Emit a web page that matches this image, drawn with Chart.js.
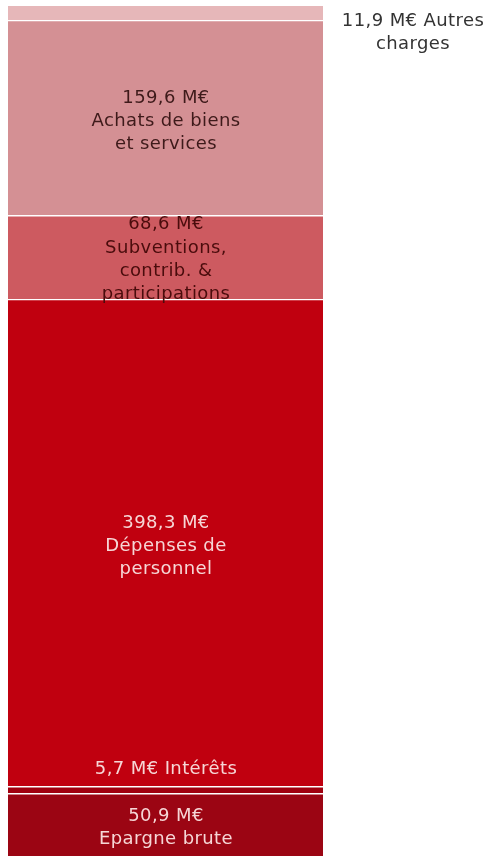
<!DOCTYPE html>
<html lang="fr">
<head>
  <meta charset="UTF-8">
  <title>Dépenses</title>
  <script src="https://cdn.jsdelivr.net/npm/chart.js"></script>
  <style>
    html, body { margin: 0; padding: 0; background: #fff; }
    #wrap { width: 489px; height: 856px; }
  </style>
</head>
<body>
  <div id="wrap"><canvas id="chart"></canvas></div>

  <script>
    // bottom to top
    const names = ['Epargne brute', 'Intérêts', 'Dépenses de personnel', 'Subventions, contrib. & participations', 'Achats de biens et services', 'Autres charges'];
    const values = [50.9, 5.7, 398.3, 68.6, 159.6, 11.9];
    const colors = ['#9b0513', '#a0000f', '#c0000f', '#cd5a60', '#d49094', '#e6b7b9'];
    const labelLines = [
      ['50,9 M€', 'Epargne brute'],
      ['5,7 M€ Intérêts'],
      ['398,3 M€', 'Dépenses de', 'personnel'],
      ['68,6 M€', 'Subventions,', 'contrib. &', 'participations'],
      ['159,6 M€', 'Achats de biens', 'et services'],
      ['11,9 M€ Autres', 'charges']
    ];
    const textColors = ['#f6d6d6', '#f6d6d6', '#f6d6d6', '#4a0c0c', '#3e1a1a', '#333333'];
    const total = values.reduce((a, b) => a + b, 0);

    // label placement: 'center', 'above' (Intérêts sits inside personnel), 'top' (subventions), 'right'
    const placement = ['center', 'above', 'center', 'top', 'center', 'right'];

    const labelPlugin = {
      id: 'segLabels',
      afterDatasetsDraw(chart) {
        const ctx = chart.ctx;
        ctx.save();
        ctx.font = '18px "DejaVu Sans", Verdana, sans-serif';
        ctx.letterSpacing = '0.4px';
        ctx.textAlign = 'center';
        ctx.textBaseline = 'middle';
        const lh = 23.3;
        chart.data.datasets.forEach((ds, i) => {
          const bar = chart.getDatasetMeta(i).data[0];
          const lines = labelLines[i];
          let cx = bar.x + 0.5, cy;
          if (placement[i] === 'center') {
            cy = (bar.y + bar.base) / 2 - (lines.length - 1) * lh / 2 + 3;
          } else if (placement[i] === 'above') {
            cy = bar.y - 17;
          } else if (placement[i] === 'top') {
            cy = bar.y + 9;
          } else {
            cx = chart.chartArea.right + 90;
            cy = bar.y + 15;
          }
          ctx.fillStyle = textColors[i];
          lines.forEach((t, k) => ctx.fillText(t, cx, cy + k * lh));
        });
        ctx.restore();
      }
    };

    new Chart(document.getElementById('chart'), {
      type: 'bar',
      data: {
        labels: [''],
        datasets: names.map((n, i) => ({
          label: n,
          data: [values[i]],
          backgroundColor: colors[i],
          borderColor: '#ffffff',
          borderWidth: { top: i === names.length - 1 ? 0 : 1, bottom: i === 0 ? 0 : 1, left: 0, right: 0 },
          borderSkipped: false,
          barPercentage: 1,
          categoryPercentage: 1
        }))
      },
      options: {
        responsive: true,
        maintainAspectRatio: false,
        animation: false,
        layout: { padding: { left: 8, right: 166, top: 6, bottom: 0 } },
        plugins: { legend: { display: false }, tooltip: { enabled: false } },
        scales: {
          x: { stacked: true, display: false },
          y: { stacked: true, display: false, min: 0, max: total }
        }
      },
      plugins: [labelPlugin]
    });
  </script>
</body>
</html>
